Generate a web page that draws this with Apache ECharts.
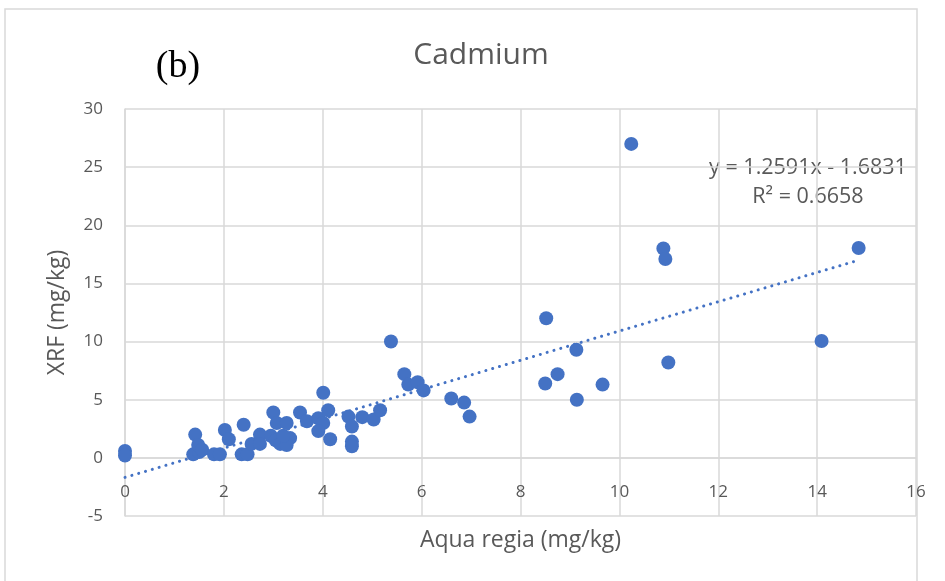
<!DOCTYPE html>
<html>
<head>
<meta charset="utf-8">
<title>Cadmium</title>
<script src="https://cdn.jsdelivr.net/npm/echarts@6/dist/echarts.min.js"></script>
<style>
  html, body { margin: 0; padding: 0; background: #ffffff; }
  #chart { width: 945px; height: 581px; }
</style>
</head>
<body>
<div id="chart"></div>
<script>
// Cadmium: aqua regia digestion vs. XRF (mg/kg)
const aquaRegia = [
  0, 0,
  1.38, 1.50, 1.42, 1.48, 1.56,
  1.80, 1.92,
  2.02, 2.10,
  2.40, 2.36, 2.48, 2.56,
  2.73, 2.73,
  3.00, 3.07, 2.95, 3.05, 3.14, 3.27, 3.34, 3.27, 3.20,
  3.54, 3.68, 3.91, 4.01, 3.91, 4.15, 4.01, 4.11,
  4.52, 4.59, 4.59, 4.59, 4.80, 5.03, 5.16,
  5.38, 5.65, 5.73, 5.92, 6.04,
  6.60, 6.86, 6.97,
  8.50, 8.52, 8.75, 9.13, 9.14, 9.66,
  10.24, 10.89, 10.93, 10.99,
  14.09, 14.84
];
const xrf = [
  0.6, 0.2,
  0.3, 0.5, 2.0, 1.1, 0.7,
  0.3, 0.3,
  2.4, 1.6,
  2.85, 0.3, 0.3, 1.2,
  2.0, 1.2,
  3.9, 3.0, 1.9, 1.5, 1.2, 3.0, 1.7, 1.1, 1.9,
  3.9, 3.15, 3.4, 3.0, 2.3, 1.6, 5.6, 4.1,
  3.55, 2.7, 1.4, 1.0, 3.5, 3.3, 4.1,
  10.0, 7.2, 6.3, 6.5, 5.8,
  5.1, 4.75, 3.55,
  6.4, 12.0, 7.2, 9.3, 5.0, 6.3,
  27.0, 18.0, 17.1, 8.2,
  10.05, 18.05
];

// Linear fit reported on the chart
const slope = 1.2591;
const intercept = -1.6831;
const rSquared = 0.6658;

const xTicks = [0, 2, 4, 6, 8, 10, 12, 14, 16];
const yTicks = [-5, 0, 5, 10, 15, 20, 25, 30];

const points = aquaRegia.map((x, i) => [x, xrf[i]]);
const xMin = Math.min(...aquaRegia);
const xMax = Math.max(...aquaRegia);
const fitLine = [
  [xMin, slope * xMin + intercept],
  [xMax, slope * xMax + intercept]
];

const blue = '#4472C4';
const grey = '#595959';
const gridGrey = '#d9d9d9';
const font = '"Open Sans"';

const chart = echarts.init(document.getElementById('chart'), null, { renderer: 'canvas' });

chart.setOption({
  animation: false,
  backgroundColor: '#ffffff',
  grid: { left: 125, top: 109, width: 791, height: 407, containLabel: false },
  xAxis: {
    type: 'value',
    min: xTicks[0],
    max: xTicks[xTicks.length - 1],
    interval: xTicks[1] - xTicks[0],
    name: 'Aqua regia (mg/kg)',
    nameLocation: 'middle',
    nameGap: 13,
    nameTextStyle: { color: grey, fontSize: 23, fontFamily: font, verticalAlign: 'top' },
    axisLine: { show: true, lineStyle: { color: gridGrey, width: 1.5 } },
    axisTick: { show: false },
    axisLabel: { inside: true, margin: 15, color: grey, fontSize: 17, fontFamily: font },
    splitLine: { show: true, lineStyle: { color: gridGrey, width: 1.5 } }
  },
  yAxis: {
    type: 'value',
    min: yTicks[0],
    max: yTicks[yTicks.length - 1],
    interval: yTicks[1] - yTicks[0],
    name: 'XRF (mg/kg)',
    nameLocation: 'middle',
    nameGap: 56,
    nameTextStyle: { color: grey, fontSize: 23, fontFamily: font },
    axisLine: { show: true, onZero: false, lineStyle: { color: gridGrey, width: 1.5 } },
    axisTick: { show: false },
    axisLabel: { margin: 22, color: grey, fontSize: 17, fontFamily: font },
    splitLine: { show: true, lineStyle: { color: gridGrey, width: 1.5 } }
  },
  series: [
    {
      type: 'line',
      data: fitLine,
      showSymbol: false,
      symbol: 'none',
      silent: true,
      z: 1,
      lineStyle: { color: blue, width: 3, type: [0.1, 7], cap: 'round' }
    },
    {
      type: 'scatter',
      data: points,
      symbol: 'circle',
      symbolSize: 14,
      z: 2,
      itemStyle: { color: blue, opacity: 1 }
    }
  ],
  graphic: [
    {
      type: 'rect',
      shape: { x: 5, y: 9, width: 912, height: 600 },
      style: { fill: 'none', stroke: gridGrey, lineWidth: 1.5 },
      silent: true, z: -10
    },
    {
      type: 'text',
      x: 481, y: 55,
      style: { text: 'Cadmium', fill: grey, font: '30px ' + font, align: 'center', verticalAlign: 'middle' }
    },
    {
      type: 'text',
      x: 178, y: 67,
      style: { text: '(b)', fill: '#000000', font: '38px "Liberation Serif"', align: 'center', verticalAlign: 'middle' }
    },
    {
      type: 'text',
      x: 808, y: 168,
      style: {
        text: 'y = ' + slope.toFixed(4) + 'x - ' + Math.abs(intercept).toFixed(4),
        fill: grey, font: '21.5px ' + font, align: 'center', verticalAlign: 'middle'
      }
    },
    {
      type: 'text',
      x: 808, y: 197,
      style: {
        text: 'R² = ' + rSquared.toFixed(4),
        fill: grey, font: '21.5px ' + font, align: 'center', verticalAlign: 'middle'
      }
    }
  ]
});
</script>
</body>
</html>
